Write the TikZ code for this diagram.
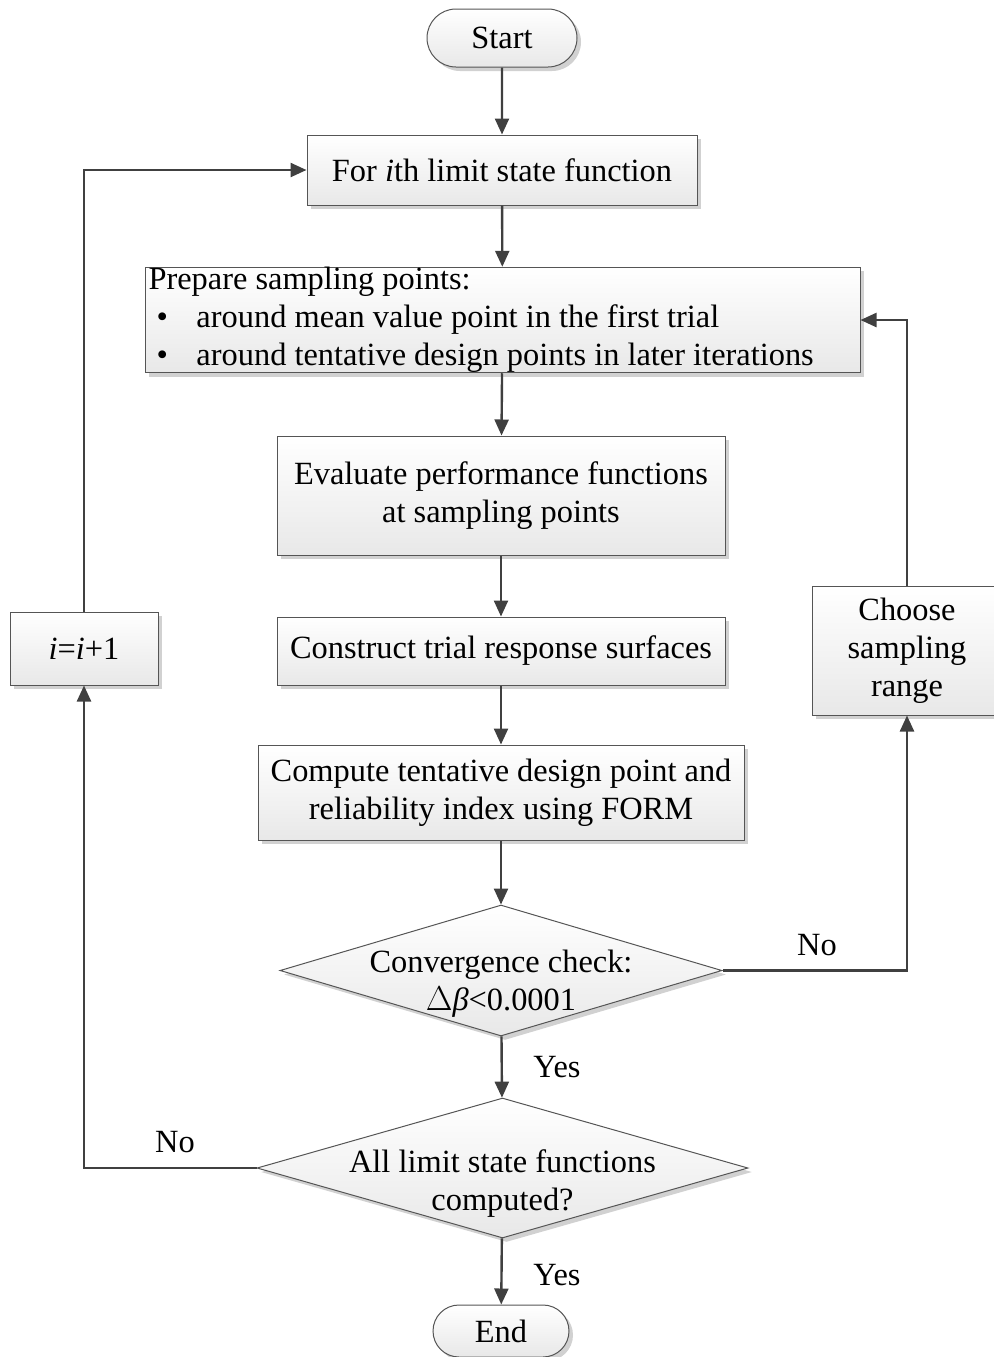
\documentclass[tikz,border=0pt]{standalone}
\usepackage{fontspec}
\setmainfont{Liberation Serif}
\usetikzlibrary{arrows.meta,shapes.geometric,shapes.misc,shadows}
\definecolor{linegray}{HTML}{404040}
\definecolor{edgegray}{HTML}{555555}
\begin{document}
\begin{tikzpicture}[x=0.5pt,y=-0.5pt,
  font=\fontsize{16.2pt}{19pt}\selectfont,
  base/.style={draw=edgegray,line width=0.5pt,top color=white,bottom color=black!9,
    drop shadow={shadow xshift=2pt,shadow yshift=-2pt,fill=black!18,opacity=1},
    inner sep=0pt,align=center},
  procbox/.style={base,rectangle},
  termbox/.style={base,rounded rectangle},
  decbox/.style={base,diamond},
  flow/.style={draw=linegray,line width=1.2pt,-{Triangle[length=8pt,width=7pt]}},
  lbl/.style={font=\fontsize{16.2pt}{19pt}\selectfont,inner sep=0pt}]
\useasboundingbox (0,0) rectangle (993,1357);

% main column
\node[termbox,minimum width=75pt,minimum height=29pt] (start) at (502,38) {Start};
\node[procbox,minimum width=195pt,minimum height=35pt] (fori) at (502,170) {For \textit{i}th limit state function};
\node[procbox,minimum width=357.5pt,minimum height=52pt,text width=354pt,align=flush left,inner xsep=1.75pt] (prep) at (502.5,320)
  {Prepare sampling points:\\
   \hspace*{4pt}\makebox[20pt][l]{\textbullet}around mean value point in the first trial\\
   \hspace*{4pt}\makebox[20pt][l]{\textbullet}around tentative design points in later iterations};
\node[procbox,minimum width=224pt,minimum height=59.5pt] (eval) at (501,495.5) {Evaluate performance functions\\at sampling points};
\node[procbox,minimum width=224pt,minimum height=34pt] (constr) at (501,651) {Construct trial response surfaces};
\node[procbox,minimum width=243pt,minimum height=47.5pt] (comp) at (501,792.5) {Compute tentative design point and\\reliability index using FORM};
\node[decbox,minimum width=221pt,minimum height=65.5pt,
  label={[lbl,align=center,yshift=-6.5pt]center:Convergence check:\\$\Delta$\textit{β}<0.0001}] (conv) at (501,970.5) {};
\node[decbox,minimum width=245.5pt,minimum height=70pt,
  label={[lbl,align=center,yshift=-8pt]center:All limit state functions\\computed?}] (all) at (502.5,1168) {};
\node[termbox,minimum width=68pt,minimum height=26pt] (stop) at (501,1331) {End};

% side boxes
\node[procbox,minimum width=74pt,minimum height=36.5pt] (inc) at (84,648.5) {\textit{i}=\textit{i}+1};
\node[procbox,minimum width=95pt,minimum height=64.5pt] (choose) at (907,650.5) {Choose\\sampling\\range};

% connectors
\draw[flow] (start) -- (fori);
\draw[flow] (fori) -- (prep);
\draw[flow] (prep) -- (eval);
\draw[flow] (eval) -- (constr);
\draw[flow] (constr) -- (comp);
\draw[flow] (comp) -- (conv);
\draw[flow] (conv) -- (all);
\draw[flow] (all) -- (stop);
\draw[flow] (conv.east) -| (choose.south);
\draw[flow] (choose.north) |- (prep.east);
\draw[flow] (all.west) -| (inc.south);
\draw[flow] (inc.north) |- (fori.west);

% branch labels
\node[lbl] (yes1) at (557,1067) {Yes};
\node[lbl] (yes2) at (557,1275) {Yes};
\node[lbl] (no1) at (817,945) {No};
\node[lbl] (no2) at (175,1142) {No};
\end{tikzpicture}
\end{document}
